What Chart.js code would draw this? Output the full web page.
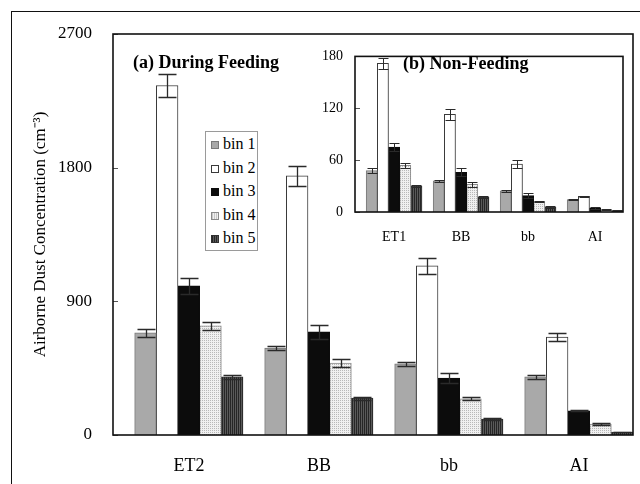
<!DOCTYPE html>
<html>
<head>
<meta charset="utf-8">
<script src="https://cdn.jsdelivr.net/npm/chart.js@4"></script>
<style>
  html, body { margin:0; padding:0; background:#fff; }
  #wrap { position:relative; width:640px; height:484px; overflow:hidden; background:#fff; }
  #frame { position:absolute; left:11px; top:11px; width:700px; height:600px; border-left:1.5px solid #111; border-top:1.5px solid #111; }
  canvas { position:absolute; }
  .lbl { position:absolute; font-family:"Liberation Serif","Times New Roman",serif; color:#000; white-space:nowrap; }
  .title { font-size:18px; font-weight:bold; line-height:20px; }
  #legend { position:absolute; left:205px; top:131px; width:51px; height:118px; border:1px solid #9a9a9a; background:#fff; }
  .row { position:absolute; left:5px; height:18px; line-height:18px; font-family:"Liberation Serif","Times New Roman",serif; font-size:16px; color:#000; }
  .sw { display:inline-block; width:8px; height:8px; margin-right:4px; box-sizing:border-box; vertical-align:0px; }
</style>
</head>
<body>
<div id="wrap">
  <div id="frame"></div>
  <canvas id="main" width="640" height="484" style="left:0;top:0;"></canvas>
  <canvas id="inset" width="320" height="214" style="left:310px;top:36px;"></canvas>
  <div class="lbl title" style="left:133px;top:52px;">(a) During Feeding</div>
  <div class="lbl title" style="left:403px;top:53px;">(b) Non-Feeding</div>
  <div id="legend"></div>
</div>
<script>
// ---------- data ----------
const binNames = ['bin 1', 'bin 2', 'bin 3', 'bin 4', 'bin 5'];

// (a) During Feeding
const feedingCategories = ['ET2', 'BB', 'bb', 'AI'];
const feedingTicks = [0, 900, 1800, 2700];
const feedingBin1 = [688, 585, 479, 391];
const feedingBin2 = [2353, 1745, 1139, 660];
const feedingBin3 = [1004, 694, 384, 162];
const feedingBin4 = [735, 485, 243, 74];
const feedingBin5 = [391, 249, 108, 20];
const feedingErr1 = [28, 13, 12, 12];
const feedingErr2 = [78, 67, 54, 27];
const feedingErr3 = [54, 47, 34, 3];
const feedingErr4 = [27, 27, 10, 7];
const feedingErr5 = [13, 10, 7, 3];

// (b) Non-Feeding
const nonFeedingCategories = ['ET1', 'BB', 'bb', 'AI'];
const nonFeedingTicks = [0, 60, 120, 180];
const nonFeedingBin1 = [48, 36, 24.5, 14.5];
const nonFeedingBin2 = [172, 113, 55.5, 18];
const nonFeedingBin3 = [75, 46, 19, 4.6];
const nonFeedingBin4 = [54, 32, 12, 2.5];
const nonFeedingBin5 = [30, 17, 5.5, 1.5];
const nonFeedingErr1 = [2.5, 1, 1, 1];
const nonFeedingErr2 = [6, 6, 5, 1];
const nonFeedingErr3 = [5, 4.5, 3, 0.7];
const nonFeedingErr4 = [3, 3, 0.8, 0.5];
const nonFeedingErr5 = [1.5, 1, 1, 0.3];

const yTitle = 'Airborne Dust Concentration (cm\u207B\u00B3)';

// ---------- styles ----------
const SERIF = '"Liberation Serif", "Times New Roman", serif';

function makePattern(w, h, drawFn) {
  const c = document.createElement('canvas');
  c.width = w; c.height = h;
  const g = c.getContext('2d');
  drawFn(g);
  return g.createPattern(c, 'repeat');
}
const pat4 = makePattern(2, 2, g => {
  g.fillStyle = '#f0f0f0'; g.fillRect(0, 0, 2, 2);
  g.fillStyle = '#b8b8b8'; g.fillRect(0, 0, 1, 1);
});
const pat5 = makePattern(2, 1, g => {
  g.fillStyle = '#5a5a5a'; g.fillRect(0, 0, 2, 1);
  g.fillStyle = '#262626'; g.fillRect(0, 0, 1, 1);
});

const binFill = ['#a9a9a9', '#ffffff', '#0c0c0c', pat4, pat5];
const binBorder = ['#7a7a7a', '#3a3a3a', '#0c0c0c', '#8a8a8a', '#303030'];

function buildDatasets(values, errors) {
  const ds = [{ label: '', data: values[0].map(() => null), backgroundColor: 'rgba(0,0,0,0)', borderWidth: 0, categoryPercentage: 1, barPercentage: 1 }];
  values.forEach((v, i) => {
    ds.push({
      label: binNames[i],
      data: v,
      errors: errors[i],
      backgroundColor: binFill[i],
      borderColor: binBorder[i],
      borderWidth: 1,
      borderSkipped: 'bottom',
      categoryPercentage: 1,
      barPercentage: 1
    });
  });
  return ds;
}

const boxAndErrors = {
  id: 'boxAndErrors',
  afterDatasetsDraw(chart, args, opts) {
    const ctx = chart.ctx;
    const y = chart.scales.y;
    ctx.save();
    ctx.strokeStyle = '#2a2a2a';
    ctx.lineWidth = opts.lw || 1.2;
    chart.data.datasets.forEach((ds, di) => {
      if (!ds.errors) return;
      const meta = chart.getDatasetMeta(di);
      meta.data.forEach((bar, i) => {
        const v = ds.data[i], e = ds.errors[i];
        if (v == null || !e) return;
        const yt = Math.round(y.getPixelForValue(v + e)) + 0.5;
        const yb = Math.round(y.getPixelForValue(Math.max(0, v - e))) + 0.5;
        const x = Math.round(bar.x) + 0.5;
        const hw = opts.cap;
        ctx.beginPath();
        ctx.moveTo(x, yt); ctx.lineTo(x, yb);
        ctx.moveTo(x - hw, yt); ctx.lineTo(x + hw, yt);
        ctx.moveTo(x - hw, yb); ctx.lineTo(x + hw, yb);
        ctx.stroke();
      });
    });
    // inward y tick marks
    ctx.strokeStyle = '#555';
    ctx.lineWidth = 1;
    const a = chart.chartArea;
    y.ticks.forEach(t => {
      const py = Math.round(y.getPixelForValue(t.value)) + 0.5;
      ctx.beginPath(); ctx.moveTo(a.left, py); ctx.lineTo(a.left + 5, py); ctx.stroke();
    });
    // plot box
    ctx.strokeStyle = '#111';
    ctx.lineWidth = 1.6;
    ctx.strokeRect(a.left, a.top, a.right - a.left, a.bottom - a.top);
    ctx.restore();
  }
};

function makeChart(canvasId, cats, values, errors, ticks, cfg) {
  return new Chart(document.getElementById(canvasId), {
    type: 'bar',
    data: { labels: cats, datasets: buildDatasets(values, errors) },
    plugins: [boxAndErrors],
    options: {
      responsive: false,
      animation: false,
      layout: { padding: { top: cfg.padTop, right: cfg.padRight, left: 0, bottom: 0 } },
      plugins: {
        legend: { display: false },
        tooltip: { enabled: false },
        boxAndErrors: { cap: cfg.cap, lw: cfg.lw }
      },
      scales: {
        x: {
          grid: { display: false, drawTicks: false },
          border: { display: false },
          ticks: { color: '#000', font: { family: SERIF, size: cfg.xFont }, padding: cfg.xPad, labelOffset: cfg.labelOffset, maxRotation: 0 },
          afterFit: s => { s.height = cfg.xHeight; }
        },
        y: {
          min: ticks[0],
          max: ticks[ticks.length - 1],
          afterBuildTicks: s => { s.ticks = ticks.map(v => ({ value: v })); },
          grid: { display: false, drawTicks: false },
          border: { display: false },
          ticks: { color: '#000', font: { family: SERIF, size: cfg.yFont }, padding: cfg.yPad, callback: v => String(v) },
          title: cfg.title ? { display: true, text: cfg.title, color: '#000', font: { family: SERIF, size: 17 }, padding: { top: 30, bottom: 0 } } : { display: false },
          afterFit: s => { s.width = cfg.yWidth; }
        }
      }
    }
  });
}

makeChart('main', feedingCategories,
  [feedingBin1, feedingBin2, feedingBin3, feedingBin4, feedingBin5],
  [feedingErr1, feedingErr2, feedingErr3, feedingErr4, feedingErr5],
  feedingTicks,
  { padTop: 34, padRight: 7, xHeight: 49, yWidth: 113, xFont: 18, yFont: 17, xPad: 20, yPad: 21, labelOffset: 11, cap: 9, lw: 1.3, title: yTitle });

makeChart('inset', nonFeedingCategories,
  [nonFeedingBin1, nonFeedingBin2, nonFeedingBin3, nonFeedingBin4, nonFeedingBin5],
  [nonFeedingErr1, nonFeedingErr2, nonFeedingErr3, nonFeedingErr4, nonFeedingErr5],
  nonFeedingTicks,
  { padTop: 8, padRight: 7, xHeight: 38, yWidth: 45, xFont: 14, yFont: 14, xPad: 17, yPad: 12, labelOffset: 5.6, cap: 5, lw: 1, title: null });

// ---------- legend (HTML text) ----------
const swatchCss = [
  'background:#a9a9a9;border:1px solid #7a7a7a;',
  'background:#fff;border:1px solid #3a3a3a;',
  'background:#0c0c0c;border:1px solid #0c0c0c;',
  'background:repeating-linear-gradient(90deg,#c8c8c8 0 1px,#f0f0f0 1px 2px);border:1px solid #8a8a8a;',
  'background:repeating-linear-gradient(90deg,#262626 0 1px,#5a5a5a 1px 2px);border:1px solid #303030;'
];
const legend = document.getElementById('legend');
binNames.forEach((name, i) => {
  const row = document.createElement('div');
  row.className = 'row';
  row.style.top = (3 + i * 23.5) + 'px';
  row.innerHTML = '<span class="sw" style="' + swatchCss[i] + '"></span>' + name;
  legend.appendChild(row);
});
</script>
</body>
</html>
